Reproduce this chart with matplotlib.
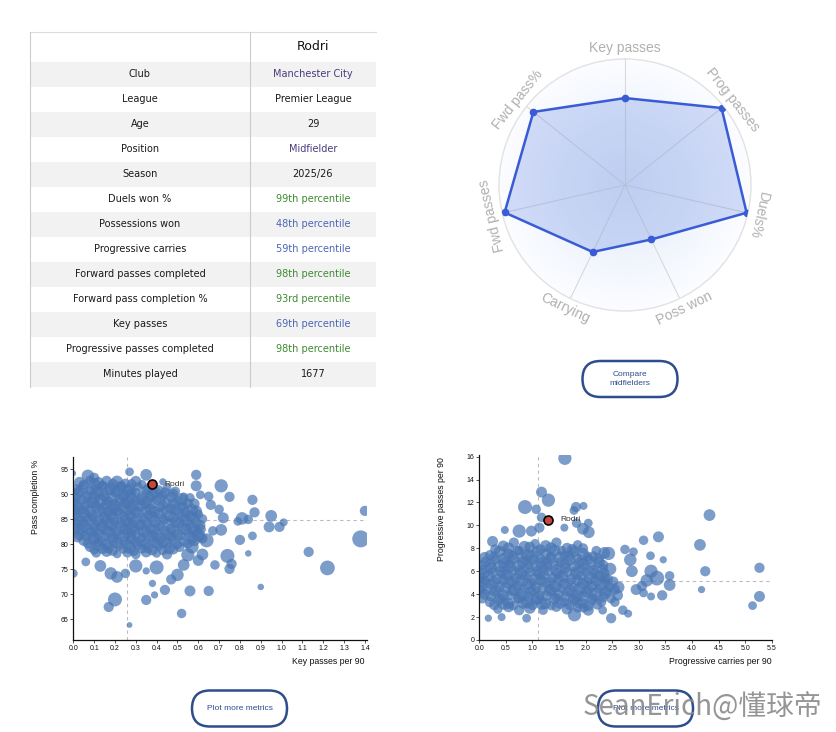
import numpy as np
import matplotlib
matplotlib.use("Agg")
import matplotlib.pyplot as plt
from matplotlib.patches import Rectangle, FancyBboxPatch
from matplotlib.colors import LinearSegmentedColormap

W, H = 837, 732

# ---------------- data ----------------
player = "Rodri"
info_labels = ["Club", "League", "Age", "Position", "Season"]
info_values = ["Manchester City", "Premier League", "29", "Midfielder", "2025/26"]
info_is_link = [True, False, False, True, False]
metric_labels = ["Duels won %", "Possessions won", "Progressive carries",
                 "Forward passes completed", "Forward pass completion %",
                 "Key passes", "Progressive passes completed"]
metric_pct = [99, 48, 59, 98, 93, 69, 98]
minutes_label = "Minutes played"
minutes_value = 1677

radar_labels = ["Key passes", "Prog passes", "Duels%", "Poss won",
                "Carrying", "Fwd passes", "Fwd pass%"]
radar_values = [69, 98, 99, 48, 59, 98, 93]

# Key passes per 90 vs pass completion % (midfielders)
kp_x = [
    0.03, 0.08, 0.12, 0.16, 0.21, 0.25, 0.30, 0.33,
    0.01, 0.05, 0.10, 0.14, 0.18, 0.23, 0.27, 0.31, 0.36, 0.41, 0.45,
    0.02, 0.07, 0.11, 0.15, 0.20, 0.24, 0.28, 0.33, 0.38, 0.43, 0.48, 0.53,
    0.00, 0.04, 0.09, 0.13, 0.17, 0.22, 0.26, 0.30, 0.35, 0.40, 0.45, 0.50, 0.55,
    0.02, 0.06, 0.11, 0.15, 0.19, 0.24, 0.28, 0.32, 0.37, 0.42, 0.47, 0.52, 0.57,
    0.01, 0.05, 0.09, 0.14, 0.18, 0.22, 0.27, 0.31, 0.36, 0.41, 0.46, 0.51, 0.56, 0.60,
    0.03, 0.07, 0.12, 0.16, 0.20, 0.25, 0.29, 0.34, 0.39, 0.44, 0.49, 0.54, 0.59,
    0.01, 0.05, 0.10, 0.14, 0.19, 0.23, 0.28, 0.32, 0.37, 0.42, 0.47, 0.52, 0.57, 0.61,
    0.03, 0.08, 0.12, 0.17, 0.21, 0.26, 0.30, 0.35, 0.40, 0.45, 0.50, 0.55, 0.60,
    0.05, 0.10, 0.14, 0.19, 0.24, 0.28, 0.33, 0.38, 0.43, 0.48, 0.53, 0.58,
    0.08, 0.12, 0.17, 0.22, 0.27, 0.31, 0.36, 0.41, 0.46, 0.51,
    0.11, 0.16, 0.21, 0.26, 0.30, 0.35, 0.40, 0.45,
    0.00, 0.07, 0.10, 0.27, 0.35, 0.43, 0.59, 0.59, 0.71, 0.61, 0.65, 0.75,
    0.86, 0.87, 0.95, 0.81, 0.84, 0.79, 1.01, 0.94, 0.99, 0.86, 0.80, 0.84,
    0.74, 0.76, 0.75, 0.68, 0.65, 0.90, 1.13, 1.22, 1.40, 1.38, 0.71, 0.72,
    0.66, 0.67, 0.70, 0.64, 0.62, 0.06, 0.13, 0.18, 0.21, 0.25, 0.30, 0.35,
    0.40, 0.38, 0.39, 0.35, 0.44, 0.47, 0.50, 0.53, 0.55, 0.56, 0.52, 0.20,
    0.17, 0.27, 0.00, 0.57, 0.60,
]
kp_pc = [
    92.4, 92.8, 92.3, 92.7, 92.5, 92.2, 92.6, 92.0,
    91.0, 91.5, 91.2, 91.6, 91.1, 91.4, 91.0, 91.5, 91.1, 90.8, 91.3,
    90.2, 89.8, 90.1, 89.7, 90.3, 89.9, 90.2, 89.6, 90.0, 89.8, 90.1, 89.5,
    88.5, 88.9, 88.4, 88.8, 88.6, 88.9, 88.4, 88.8, 88.5, 88.9, 88.3, 88.7, 88.2,
    87.2, 87.6, 87.3, 87.7, 87.1, 87.5, 87.2, 87.6, 87.0, 87.4, 87.1, 87.5, 86.9,
    86.0, 86.3, 85.9, 86.4, 86.0, 86.2, 85.8, 86.3, 85.9, 86.1, 85.8, 86.2, 85.7, 86.0,
    84.6, 85.0, 84.7, 84.9, 84.5, 84.8, 84.4, 84.9, 84.6, 84.9, 84.5, 84.8, 84.4,
    83.3, 83.7, 83.4, 83.6, 83.2, 83.6, 83.3, 83.7, 83.2, 83.5, 83.1, 83.6, 83.3, 83.0,
    82.0, 82.4, 82.1, 82.5, 81.9, 82.3, 82.0, 82.4, 81.8, 82.2, 81.9, 82.3, 81.8,
    80.8, 81.1, 80.6, 81.0, 80.7, 81.1, 80.6, 80.9, 80.5, 81.0, 80.6, 80.9,
    79.5, 79.8, 79.3, 79.7, 79.4, 79.8, 79.3, 79.6, 79.2, 79.5,
    78.3, 78.6, 78.1, 78.4, 78.0, 78.5, 78.2, 78.0,
    94.2, 93.7, 93.3, 94.5, 93.9, 92.5, 93.9, 91.7, 91.7, 89.9, 89.6, 89.5,
    88.9, 86.4, 85.7, 85.2, 85.0, 84.6, 84.4, 83.5, 83.5, 81.7, 80.9, 78.2,
    77.7, 76.1, 75.1, 75.9, 70.7, 71.5, 78.5, 75.3, 86.7, 81.1, 82.9, 85.3,
    87.9, 82.7, 87.0, 80.8, 78.0, 76.5, 75.7, 74.2, 73.5, 74.2, 75.7, 74.7,
    75.4, 72.2, 69.9, 68.9, 70.9, 73.0, 73.9, 75.9, 77.9, 70.7, 66.2, 69.0,
    67.5, 63.9, 74.2, 79.5, 76.8,
]
kp_min = [
    1200, 1000, 1300, 1100, 1400, 1000, 1200, 900,
    1100, 1300, 1000, 1200, 1400, 1100, 1300, 1000, 1200, 1100, 900,
    1300, 1100, 1400, 1200, 1000, 1300, 1100, 1200, 1400, 1000, 1100, 900,
    1200, 1000, 1300, 1500, 1100, 1200, 1400, 1000, 1300, 1100, 1200, 1000, 1100,
    1400, 1100, 1200, 1000, 1300, 1500, 1100, 1200, 1300, 1000, 1200, 1100, 1300,
    1100, 1300, 1200, 1000, 1400, 1200, 1100, 1300, 1000, 1200, 1400, 1100, 1200, 1000,
    1300, 1100, 1400, 1200, 1000, 1300, 1200, 1100, 1400, 1000, 1200, 1300, 1100,
    1200, 1400, 1100, 1300, 1000, 1200, 1400, 1100, 1300, 1000, 1200, 1100, 1400, 1200,
    1300, 1100, 1200, 1400, 1000, 1300, 1100, 1200, 1400, 1100, 1300, 1000, 1500,
    1200, 1400, 1100, 1300, 1000, 1200, 1400, 1100, 1300, 1200, 1100, 1400,
    1100, 1300, 1200, 1000, 1400, 1100, 1200, 1000, 1300, 1100,
    1000, 1200, 900, 1100, 1000, 1200, 900, 1100,
    500, 1400, 1100, 900, 1300, 700, 1100, 1200, 1500, 900, 1000, 1100,
    1100, 1100, 1300, 1400, 1000, 900, 800, 1200, 1100, 900, 1100, 600,
    1600, 1100, 1100, 1000, 1100, 600, 1100, 1700, 1100, 2000, 1300, 1200,
    1100, 1000, 1000, 1600, 1300, 900, 1300, 1400, 1300, 1000, 1500, 700,
    1600, 700, 700, 1100, 1100, 1100, 1400, 1300, 1500, 1200, 1000, 1600,
    1100, 500, 900, 1500, 1200,
]
# more midfielders inside the dense core
kp_x_core = [
    0.05, 0.10, 0.14, 0.19, 0.23, 0.28,
    0.03, 0.08, 0.12, 0.17, 0.21, 0.26, 0.30, 0.35, 0.39, 0.44, 0.49,
    0.01, 0.06, 0.10, 0.15, 0.19, 0.24, 0.28, 0.33, 0.37, 0.42, 0.47, 0.52, 0.56,
    0.02, 0.07, 0.11, 0.16, 0.20, 0.25, 0.29, 0.34, 0.38, 0.43, 0.48, 0.53, 0.58,
    0.00, 0.04, 0.08, 0.13, 0.17, 0.21, 0.26, 0.30, 0.35, 0.39, 0.44, 0.49, 0.54, 0.59,
    0.02, 0.06, 0.10, 0.15, 0.19, 0.24, 0.28, 0.33, 0.38, 0.43, 0.48, 0.53, 0.58, 0.62,
    0.01, 0.05, 0.10, 0.14, 0.18, 0.23, 0.27, 0.32, 0.36, 0.41, 0.46, 0.51, 0.56, 0.61,
    0.03, 0.07, 0.12, 0.16, 0.21, 0.25, 0.30, 0.34, 0.39, 0.44, 0.49, 0.54, 0.59,
    0.02, 0.06, 0.10, 0.15, 0.19, 0.24, 0.28, 0.33, 0.38, 0.42, 0.47, 0.52, 0.57, 0.62,
    0.07, 0.12, 0.16, 0.21, 0.26, 0.30, 0.35, 0.40, 0.45, 0.50, 0.55,
    0.10, 0.14, 0.19, 0.24, 0.29, 0.33, 0.38, 0.43, 0.48,
]
kp_pc_core = [
    91.9, 92.1, 91.8, 92.0, 91.7, 92.1,
    90.6, 90.8, 90.5, 90.9, 90.6, 90.7, 90.4, 90.8, 90.5, 90.3, 90.6,
    89.3, 89.5, 89.2, 89.4, 89.1, 89.5, 89.3, 89.0, 89.4, 89.2, 89.5, 89.0, 89.3,
    88.0, 88.2, 87.9, 88.1, 87.8, 88.2, 88.0, 87.9, 88.1, 87.8, 88.0, 87.7, 88.1,
    86.7, 86.9, 86.6, 86.8, 86.5, 86.9, 86.7, 86.6, 86.8, 86.5, 86.7, 86.9, 86.4, 86.6,
    85.4, 85.6, 85.3, 85.5, 85.2, 85.6, 85.4, 85.3, 85.5, 85.2, 85.4, 85.6, 85.3, 85.1,
    84.1, 84.3, 84.0, 84.2, 83.9, 84.3, 84.1, 84.0, 84.2, 83.9, 84.1, 84.3, 84.0, 83.8,
    82.8, 83.0, 82.7, 82.9, 82.6, 83.0, 82.8, 82.7, 82.9, 82.6, 82.8, 83.0, 82.7,
    81.5, 81.7, 81.4, 81.6, 81.3, 81.7, 81.5, 81.4, 81.6, 81.3, 81.5, 81.7, 81.4, 81.2,
    80.2, 80.4, 80.1, 80.3, 80.0, 80.4, 80.2, 80.1, 80.3, 80.0, 80.2,
    78.9, 79.1, 78.8, 79.0, 78.7, 79.1, 78.9, 78.8, 79.0,
]
kp_min_core = [
    1100, 1300, 1000, 1200, 1100, 1000,
    1200, 1000, 1300, 1100, 1200, 1400, 1000, 1100, 1300, 1200, 1000,
    1100, 1200, 1400, 1000, 1300, 1100, 1200, 1300, 1000, 1100, 1200, 1400, 1000,
    1300, 1100, 1000, 1200, 1400, 1100, 1300, 1000, 1200, 1100, 1300, 1000, 1200,
    1200, 1000, 1300, 1100, 1200, 1400, 1000, 1200, 1100, 1300, 1000, 1200, 1100, 1300,
    1000, 1200, 1100, 1300, 1400, 1000, 1200, 1100, 1300, 1000, 1200, 1400, 1100, 1000,
    1300, 1100, 1200, 1000, 1300, 1100, 1400, 1200, 1000, 1100, 1300, 1200, 1000, 1100,
    1100, 1300, 1000, 1200, 1100, 1300, 1000, 1400, 1200, 1100, 1000, 1300, 1200,
    1200, 1100, 1300, 1000, 1200, 1400, 1100, 1000, 1300, 1200, 1100, 1000, 1300, 1100,
    1100, 1000, 1200, 1300, 1100, 1000, 1200, 1100, 1300, 1000, 1100,
    1000, 1100, 1200, 900, 1100, 1000, 1200, 1000, 1100,
]

# Progressive carries per 90 vs progressive passes per 90
pc_x = [
    0.45, 0.65, 0.85, 1.05, 1.25, 1.45, 1.65, 1.85,
    0.20, 0.38, 0.55, 0.72, 0.90, 1.08, 1.25, 1.42, 1.60, 1.78, 1.95, 2.15, 2.35,
    0.12, 0.30, 0.47, 0.64, 0.82, 1.00, 1.17, 1.35, 1.52, 1.70, 1.88, 2.05, 2.25,
    0.05, 0.22, 0.40, 0.57, 0.75, 0.92, 1.10, 1.27, 1.45, 1.62, 1.80, 1.97, 2.15, 2.32,
    0.02, 0.17, 0.34, 0.52, 0.69, 0.86, 1.04, 1.21, 1.39, 1.56, 1.73, 1.91, 2.08, 2.26, 2.42,
    0.04, 0.20, 0.37, 0.55, 0.72, 0.90, 1.07, 1.24, 1.42, 1.59, 1.77, 1.94, 2.11, 2.29, 2.46,
    0.10, 0.27, 0.45, 0.62, 0.79, 0.97, 1.14, 1.32, 1.49, 1.66, 1.84, 2.01, 2.19, 2.37,
    0.20, 0.37, 0.55, 0.72, 0.90, 1.07, 1.24, 1.42, 1.60, 1.77, 1.95, 2.12, 2.30,
    0.35, 0.55, 0.75, 0.95, 1.20, 1.45, 1.65, 1.85, 2.05,
    1.61, 1.17, 1.30, 0.86, 1.07, 1.82, 1.96, 1.78, 1.17, 0.48, 0.75, 0.98,
    1.13, 1.60, 1.83, 2.05, 2.06, 1.95, 0.25, 0.17, 0.42, 0.89, 1.79, 1.96,
    2.32, 2.48, 2.74, 2.90, 2.84, 2.87, 3.06, 3.09, 3.37, 3.22, 3.46, 3.23,
    3.34, 3.58, 3.58, 3.44, 3.23, 3.09, 4.15, 4.33, 4.25, 4.18, 5.27, 5.27,
    5.14, 2.70, 2.80, 2.60, 2.36, 2.43, 2.46, 2.62, 2.55, 2.95, 3.15,
]
pc_pp = [
    8.2, 8.5, 8.1, 8.4, 8.2, 8.5, 8.0, 8.3,
    7.4, 7.7, 7.5, 7.8, 7.4, 7.7, 7.5, 7.8, 7.4, 7.7, 7.5, 7.3, 7.6,
    6.8, 7.0, 6.7, 7.1, 6.8, 7.0, 6.7, 7.1, 6.8, 7.0, 6.7, 7.0, 6.8,
    6.1, 6.3, 6.0, 6.4, 6.1, 6.3, 6.0, 6.4, 6.1, 6.3, 6.0, 6.3, 6.1, 6.2,
    5.4, 5.6, 5.3, 5.7, 5.4, 5.6, 5.3, 5.7, 5.4, 5.6, 5.3, 5.6, 5.4, 5.6, 5.3,
    4.7, 4.9, 4.6, 5.0, 4.7, 4.9, 4.6, 5.0, 4.7, 4.9, 4.6, 4.9, 4.7, 4.9, 4.6,
    4.0, 4.2, 3.9, 4.3, 4.0, 4.2, 3.9, 4.3, 4.0, 4.2, 3.9, 4.2, 4.0, 4.1,
    3.3, 3.5, 3.2, 3.6, 3.3, 3.5, 3.2, 3.6, 3.3, 3.5, 3.2, 3.5, 3.3,
    2.7, 2.9, 2.6, 2.8, 2.6, 2.9, 2.7, 2.8, 2.6,
    15.85, 12.9, 12.2, 11.6, 11.4, 11.6, 11.7, 11.3, 10.7, 9.6, 9.5, 9.5,
    9.8, 9.8, 10.2, 10.2, 9.4, 9.7, 8.6, 1.9, 2.0, 1.9, 2.2, 2.8,
    2.6, 1.9, 7.9, 7.7, 7.0, 6.0, 4.7, 8.7, 9.0, 7.35, 7.0, 6.0,
    5.4, 5.6, 4.8, 3.9, 3.8, 4.1, 8.3, 10.9, 6.0, 4.4, 6.3, 3.8,
    3.0, 2.6, 2.3, 3.9, 5.4, 7.55, 6.2, 4.6, 3.3, 4.4, 5.2,
]
pc_min = [
    1200, 1100, 1400, 1000, 1300, 1100, 1200, 1000,
    1100, 1300, 1200, 1000, 1400, 1200, 1100, 1300, 1000, 1200, 1400, 1100, 1300,
    1200, 1000, 1400, 1200, 1300, 1100, 1400, 1200, 1000, 1300, 1200, 1100, 1300,
    1100, 1300, 1200, 1400, 1000, 1300, 1200, 1100, 1400, 1200, 1000, 1300, 1200, 1100,
    1200, 1400, 1100, 1300, 1200, 1000, 1400, 1200, 1100, 1300, 1200, 1000, 1400, 1200, 1100,
    1300, 1100, 1200, 1400, 1000, 1300, 1200, 1100, 1400, 1200, 1000, 1300, 1200, 1400, 1100,
    1200, 1000, 1300, 1100, 1400, 1200, 1000, 1300, 1200, 1100, 1400, 1200, 1500, 1300,
    1100, 1300, 1200, 1000, 1400, 1100, 1300, 1200, 1000, 1300, 1100, 1200, 1000,
    1000, 1200, 1100, 1300, 1000, 1100, 1200, 1000, 1200,
    1500, 1200, 1500, 1600, 1000, 1100, 800, 900, 1000, 800, 1500, 1200,
    1100, 800, 1000, 900, 1300, 1300, 1200, 700, 800, 900, 1500, 1000,
    900, 1100, 1000, 900, 1400, 1300, 1100, 1000, 1200, 900, 700, 1500,
    1700, 1000, 1300, 1100, 800, 900, 1300, 1300, 1100, 700, 1100, 1200,
    900, 1000, 800, 1200, 1100, 1500, 1400, 1300, 1000, 1200, 1400,
]
pc_x_core = [
    0.30, 0.55, 0.75, 0.95, 1.15, 1.35, 1.55, 1.75, 1.95, 2.20,
    0.10, 0.28, 0.46, 0.63, 0.81, 0.99, 1.16, 1.34, 1.51, 1.69, 1.86, 2.04, 2.24,
    0.03, 0.21, 0.38, 0.56, 0.73, 0.91, 1.08, 1.26, 1.43, 1.61, 1.78, 1.96, 2.14, 2.33,
    0.08, 0.25, 0.43, 0.60, 0.78, 0.95, 1.13, 1.30, 1.47, 1.65, 1.82, 2.00, 2.17, 2.35,
    0.00, 0.11, 0.28, 0.46, 0.63, 0.81, 0.98, 1.16, 1.33, 1.50, 1.68, 1.85, 2.03, 2.20, 2.38, 2.52,
    0.02, 0.14, 0.31, 0.49, 0.66, 0.84, 1.01, 1.19, 1.36, 1.54, 1.71, 1.89, 2.06, 2.24, 2.41, 2.55,
    0.05, 0.22, 0.40, 0.57, 0.75, 0.92, 1.10, 1.27, 1.45, 1.62, 1.80, 1.97, 2.15, 2.33, 2.48,
    0.28, 0.46, 0.64, 0.82, 1.00, 1.17, 1.35, 1.52, 1.70, 1.88, 2.05, 2.22,
]
pc_pp_core = [
    7.9, 8.0, 7.8, 8.1, 7.9, 8.0, 7.8, 7.9, 8.0, 7.8,
    7.2, 7.3, 7.1, 7.35, 7.2, 7.3, 7.1, 7.25, 7.2, 7.3, 7.15, 7.25, 7.1,
    6.5, 6.6, 6.45, 6.65, 6.5, 6.6, 6.45, 6.65, 6.5, 6.6, 6.45, 6.6, 6.5, 6.55,
    5.8, 5.9, 5.75, 5.95, 5.8, 5.9, 5.75, 5.95, 5.8, 5.9, 5.75, 5.9, 5.8, 5.85,
    5.1, 5.2, 5.05, 5.25, 5.1, 5.2, 5.05, 5.25, 5.1, 5.2, 5.05, 5.2, 5.1, 5.15, 5.0, 5.1,
    4.4, 4.5, 4.35, 4.55, 4.4, 4.5, 4.35, 4.55, 4.4, 4.5, 4.35, 4.5, 4.4, 4.45, 4.3, 4.4,
    3.7, 3.8, 3.65, 3.85, 3.7, 3.8, 3.65, 3.85, 3.7, 3.8, 3.65, 3.8, 3.7, 3.75, 3.6,
    3.05, 3.15, 3.0, 3.2, 3.05, 3.15, 3.0, 3.2, 3.05, 3.15, 3.0, 3.1,
]
pc_min_core = [
    1100, 1300, 1000, 1200, 1100, 1300, 1000, 1200, 1100, 1000,
    1200, 1000, 1300, 1100, 1200, 1400, 1000, 1100, 1300, 1200, 1000, 1100, 1200,
    1100, 1200, 1400, 1000, 1300, 1100, 1200, 1300, 1000, 1100, 1200, 1400, 1000, 1100,
    1300, 1100, 1000, 1200, 1400, 1100, 1300, 1000, 1200, 1100, 1300, 1000, 1200, 1100,
    1200, 1000, 1300, 1100, 1200, 1400, 1000, 1200, 1100, 1300, 1000, 1200, 1100, 1300, 1000, 1100,
    1000, 1200, 1100, 1300, 1400, 1000, 1200, 1100, 1300, 1000, 1200, 1400, 1100, 1000, 1200, 1100,
    1300, 1100, 1200, 1000, 1300, 1100, 1400, 1200, 1000, 1100, 1300, 1200, 1000, 1100, 1000,
    1100, 1300, 1000, 1200, 1100, 1300, 1000, 1200, 1100, 1000, 1200, 1100,
]

rodri_kp, rodri_pcomp = 0.38, 92.0
rodri_carries, rodri_pp = 1.30, 10.5
ref_kp, ref_pcomp = 0.26, 84.8
ref_carries, ref_pp = 1.10, 5.15

# ---------------- figure ----------------
fig = plt.figure(figsize=(W / 100, H / 100), dpi=100)
fig.patch.set_facecolor("white")

ax0 = fig.add_axes([0, 0, 1, 1])
ax0.set_xlim(0, W)
ax0.set_ylim(H, 0)
ax0.axis("off")

TF = "DejaVu Sans"


def ordinal(n):
    if 10 <= n % 100 <= 20:
        suf = "th"
    else:
        suf = {1: "st", 2: "nd", 3: "rd"}.get(n % 10, "th")
    return f"{n}{suf}"


rows = []
for lab, val, link in zip(info_labels, info_values, info_is_link):
    rows.append((lab, val, "#4b3a7e" if link else "#1a1a1a"))
for lab, p in zip(metric_labels, metric_pct):
    rows.append((lab, f"{ordinal(p)} percentile", "#3d8a2f" if p >= 90 else "#4a66b5"))
rows.append((minutes_label, str(minutes_value), "#1a1a1a"))

x_l, x_div, x_r = 30, 250, 376
y_top, head_h, row_h = 32, 29.5, 25
y_end = y_top + head_h + row_h * len(rows)
for i, (lab, val, col) in enumerate(rows):
    y0 = y_top + head_h + i * row_h
    if i % 2 == 0:
        ax0.add_patch(Rectangle((x_l, y0), x_r - x_l, row_h, facecolor="#f2f2f2",
                                edgecolor="none", zorder=1))
    yc = y0 + row_h / 2
    ax0.text((x_l + x_div) / 2, yc, lab, ha="center", va="center", fontsize=7,
             family=TF, color="#1a1a1a", zorder=3)
    ax0.text((x_div + x_r) / 2, yc, val, ha="center", va="center", fontsize=7,
             family=TF, color=col, zorder=3)
ax0.text((x_div + x_r) / 2, y_top + head_h / 2, player, ha="center", va="center",
         fontsize=9, family=TF, color="#111111", zorder=3)
ax0.plot([x_l, x_r], [y_top, y_top], color="#dddddd", lw=0.8, zorder=2)
ax0.plot([x_l, x_l], [y_top, y_end], color="#cccccc", lw=0.8, zorder=2)
ax0.plot([x_div, x_div], [y_top, y_end], color="#cccccc", lw=0.8, zorder=2)


def button(cx, cy, text, w=95, h=36):
    ax0.add_patch(FancyBboxPatch((cx - w / 2, cy - h / 2), w, h,
                                 boxstyle=f"round,pad=0,rounding_size={h/2}",
                                 facecolor="white", edgecolor="#2f4d8c", lw=1.8, zorder=4))
    ax0.text(cx, cy, text, ha="center", va="center", fontsize=6, color="#2f4d8c",
             family="Liberation Sans", linespacing=1.3, zorder=5)


button(630, 379, "Compare\nmidfielders")
button(239.5, 708.5, "Plot more metrics")
button(645.5, 708.5, "Plot more metrics")

# ---------------- radar ----------------
cx, cy, R = 625, 185, 126
axr = fig.add_axes([(cx - R) / W, (H - cy - R) / H, 2 * R / W, 2 * R / H], projection="polar")
axr.set_theta_offset(np.pi / 2)
axr.set_theta_direction(-1)
axr.set_ylim(0, 100)
axr.set_xticks([])
axr.set_yticks([])
axr.grid(False)
axr.set_facecolor("none")
axr.spines["polar"].set_color("#e2e2e2")
axr.spines["polar"].set_linewidth(1.0)

cmap = LinearSegmentedColormap.from_list(
    "bg", [(0.88, 0.915, 0.97), (0.93, 0.95, 0.985), (0.985, 0.99, 1.0)])
tg = np.linspace(0, 2 * np.pi, 181)
rg = np.linspace(0, 100, 60)
T, RR = np.meshgrid(tg, rg)
axr.pcolormesh(T, RR, RR, cmap=cmap, shading="auto", zorder=0, rasterized=True)

n = len(radar_labels)
theta = np.arange(n) * 2 * np.pi / n
for t in theta:
    axr.plot([t, t], [0, 100], color="#d9d9d9", lw=0.8, zorder=1)
tc = np.append(theta, theta[0])
vc = np.append(radar_values, radar_values[0])
axr.fill(tc, vc, color="#5a7fe0", alpha=0.26, zorder=2, lw=0)
axr.plot(tc, vc, color="#3a5bd6", lw=1.8, zorder=3)
axr.plot(theta, radar_values, "o", color="#3a5bd6", ms=4.5, zorder=4)
for t, lab in zip(theta, radar_labels):
    a = 90 - np.degrees(t)
    rot = a + 90 if np.sin(np.radians(a)) < -0.5 else a - 90
    axr.text(t, 108.7, lab, rotation=rot, rotation_mode="anchor", ha="center", va="center",
             fontsize=10, color="#b0b0b0", family="Liberation Sans", zorder=5)

# ---------------- scatters ----------------
PT = 0.72


def sizes(mins):
    m = np.asarray(mins, dtype=float)
    r_px = 2.5 + 6.0 * (m - 400) / 1600
    return (2 * r_px * PT) ** 2


def style_axes(ax):
    for s in ["top", "right"]:
        ax.spines[s].set_visible(False)
    for s in ["left", "bottom"]:
        ax.spines[s].set_linewidth(0.9)
        ax.spines[s].set_color("#111111")
    ax.tick_params(length=2, width=0.5, pad=1.5, labelsize=5, colors="#111111")
    for lbl in ax.get_xticklabels() + ax.get_yticklabels():
        lbl.set_family("Liberation Sans")


dot = "#4a77b4"

axL = fig.add_axes([73.3 / W, (H - 640) / H, (367 - 73.3) / W, (640 - 457.3) / H])
axL.set_xlim(0, 1.41)
axL.set_ylim(60.9, 97.4)
axL.axvline(ref_kp, color="#bbbbbb", lw=0.8, ls=(0, (3, 3)), zorder=1)
axL.axhline(ref_pcomp, color="#bbbbbb", lw=0.8, ls=(0, (3, 3)), zorder=1)
axL.scatter(kp_x + kp_x_core, kp_pc + kp_pc_core, s=sizes(kp_min + kp_min_core),
            color=dot, alpha=0.72, edgecolors="none", zorder=2)
axL.scatter([rodri_kp], [rodri_pcomp], s=(9 * PT) ** 2, color="#c8463f",
            edgecolors="black", linewidths=1.2, zorder=5)
axL.annotate(player, (rodri_kp, rodri_pcomp), xytext=(8.6, 0), textcoords="offset points",
             ha="left", va="center", fontsize=6, family="Liberation Sans", color="#333333")
axL.set_xticks(np.round(np.arange(0, 1.41, 0.1), 1))
axL.set_xticklabels([f"{v:.1f}" for v in np.arange(0, 1.41, 0.1)])
axL.set_yticks([65, 70, 75, 80, 85, 90, 95])
style_axes(axL)
axL.text(-0.128, 0.985, "Pass completion %", rotation=90, ha="center", va="top",
         transform=axL.transAxes, fontsize=6.3, family="Liberation Sans", color="#111111")
axL.text(0.993, -0.115, "Key passes per 90", ha="right", va="center",
         transform=axL.transAxes, fontsize=6.3, family="Liberation Sans", color="#111111")

axR = fig.add_axes([479.3 / W, (H - 640) / H, (771.7 - 479.3) / W, (640 - 455) / H])
axR.set_xlim(0, 5.5)
axR.set_ylim(0, 16.14)
axR.axvline(ref_carries, color="#bbbbbb", lw=0.8, ls=(0, (3, 3)), zorder=1)
axR.axhline(ref_pp, color="#bbbbbb", lw=0.8, ls=(0, (3, 3)), zorder=1)
axR.scatter(pc_x + pc_x_core, pc_pp + pc_pp_core, s=sizes(pc_min + pc_min_core),
            color=dot, alpha=0.72, edgecolors="none", zorder=2)
axR.scatter([rodri_carries], [rodri_pp], s=(9 * PT) ** 2, color="#c8463f",
            edgecolors="black", linewidths=1.2, zorder=5)
axR.annotate(player, (rodri_carries, rodri_pp), xytext=(8.6, 0), textcoords="offset points",
             ha="left", va="center", fontsize=6, family="Liberation Sans", color="#333333")
xt = np.arange(0, 5.51, 0.5)
axR.set_xticks(xt)
axR.set_xticklabels([f"{v:.1f}" for v in xt])
axR.set_yticks(np.arange(0, 17, 2))
style_axes(axR)
axR.text(-0.129, 0.99, "Progressive passes per 90", rotation=90, ha="center", va="top",
         transform=axR.transAxes, fontsize=6.3, family="Liberation Sans", color="#111111")
axR.text(1.0, -0.115, "Progressive carries per 90", ha="right", va="center",
         transform=axR.transAxes, fontsize=6.3, family="Liberation Sans", color="#111111")

# watermark
fig.text(583 / W, 1 - 708 / H, "SeanErich@懂球帝", ha="left", va="center", fontsize=20,
         color="#8a8a8a", alpha=0.9, family=["Noto Sans CJK SC", "DejaVu Sans"], zorder=20)

fig.savefig("out.png", dpi=100, facecolor="white")
